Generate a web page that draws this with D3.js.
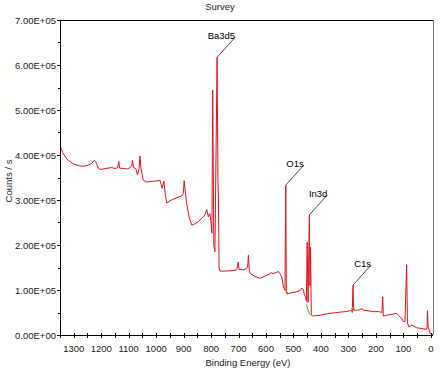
<!DOCTYPE html>
<html>
<head>
<meta charset="utf-8">
<script src="https://cdn.jsdelivr.net/npm/d3@7"></script>
<style>
  html, body { margin: 0; padding: 0; background: #fff; }
  svg { display: block; font-family: "Liberation Sans", Arial, sans-serif; }
</style>
</head>
<body>
<div id="chart"></div>
<script>
// Survey spectrum (binding energy in eV, counts / s).
const energy = [
  1350, 1340, 1330, 1320, 1313, 1300, 1280, 1265, 1250, 1235, 1225, 1220, 1210, 1204,
  1190, 1175, 1162, 1150, 1140, 1136, 1133, 1120, 1105, 1095, 1089, 1086, 1082, 1074,
  1068, 1062, 1059, 1055, 1047, 1035, 1020, 1005, 990, 986, 978, 972, 966, 961, 950,
  937, 920, 907, 901, 898, 894, 889, 880, 870, 860, 846, 832, 822, 816, 812, 810, 805,
  801, 797, 794, 790, 786, 778, 775, 773, 771, 768, 750, 720, 706, 701, 698, 680, 667,
  664, 661, 658, 640, 622, 600, 585, 579, 575, 555, 549, 543, 537, 531, 528, 526, 520,
  505, 488, 475, 470, 464, 460, 456, 453, 450, 447, 442, 440, 438, 435, 430, 420, 403,
  380, 342, 310, 294, 288, 286, 283, 281, 275, 260, 250, 246, 230, 209, 190, 178, 175,
  173, 160, 140, 124, 118, 105, 100, 94, 88, 85, 80, 69, 51, 39, 21, 14, 12, 10, 3, -8
];
const counts = [
  422000, 405000, 395000, 388000, 385000, 380000, 376000, 375000, 377000, 381000, 388000, 385000, 370000, 368000,
  369000, 371000, 372000, 370000, 372000, 386000, 371000, 370000, 369000, 372000, 376000, 388000, 372000, 370000,
  356000, 370000, 398000, 370000, 344000, 340000, 341000, 342000, 343000, 344000, 326000, 342000, 310000, 293000, 298000,
  302000, 306000, 309000, 314000, 343000, 320000, 293000, 262000, 244000, 247000, 252000, 260000, 267000, 279000, 268000, 263000, 270000,
  255000, 226000, 544000, 200000, 185000, 617000, 345000, 300000, 150000, 142000, 142000, 143000, 145000, 162000, 146000, 145000, 150000,
  178000, 145000, 137000, 130000, 126000, 132000, 136000, 139000, 136000, 141000, 136000, 130000, 107000, 100000, 333000, 92000, 92000,
  94000, 96000, 99000, 104000, 101000, 89000, 85000, 75000, 207000, 72000, 267000, 110000, 195000, 45000, 42000, 43000, 44000,
  47000, 50000, 52000, 54000, 55000, 50000, 111000, 55000, 55000, 56000, 59000, 55000, 54000, 52000, 52000, 50000, 85000,
  42000, 44000, 46000, 48000, 44000, 36000, 30000, 30000, 156000, 27000, 18000, 22000, 16000, 15000, 13000, 13000, 54000, 20000, 4000, 0
];

// Fitted background segments drawn in green.
const bgO1s = [[533, 100000], [519, 93000]];
const bgIn3d = [[454, 68000], [447, 56000], [441, 47000], [436, 43000]];
const bgC1s = [[289, 54000], [289, 60000], [278, 60000], [278, 53000]];

// Peak annotations.
const peakNames = ["Ba3d5", "O1s", "In3d", "C1s"];
const peakEnergy = [778, 528, 442, 283];
const peakCounts = [617000, 333000, 267000, 111000];

// Axis ticks.
const xTickValues = [1300, 1200, 1100, 1000, 900, 800, 700, 600, 500, 400, 300, 200, 100, 0];
const xMinorValues = d3.range(1350, -1, -50);
const yTickValues = [0, 100000, 200000, 300000, 400000, 500000, 600000, 700000];
const yTickLabels = ["0.00E+00", "1.00E+05", "2.00E+05", "3.00E+05", "4.00E+05", "5.00E+05", "6.00E+05", "7.00E+05"];
const yMinorValues = d3.range(0, 700001, 50000);

const width = 444;
const height = 389;
const margin = { top: 20, right: 11, bottom: 54, left: 60 };

const svg = d3.select("#chart")
  .append("svg")
  .attr("width", width)
  .attr("height", height);

const x = d3.scaleLinear()
  .domain([1350, -8])
  .range([margin.left, width - margin.right]);

const y = d3.scaleLinear()
  .domain([0, 700000])
  .range([height - margin.bottom, margin.top]);

const x0 = x.range()[0], x1 = x.range()[1];
const y0 = y.range()[0], y1 = y.range()[1];

// Frame (top and right).
svg.append("line")
  .attr("x1", x0).attr("x2", x1).attr("y1", y1 + 0.5).attr("y2", y1 + 0.5)
  .attr("stroke", "#000");
svg.append("line")
  .attr("x1", x1 + 0.5).attr("x2", x1 + 0.5).attr("y1", y1).attr("y2", y0)
  .attr("stroke", "#777");

// Spectrum.
const line = d3.line()
  .x((d) => x(d[0]))
  .y((d) => y(d[1]));

const spectrum = energy.map((e, i) => [e, counts[i]]);

svg.append("path")
  .datum(spectrum)
  .attr("fill", "none")
  .attr("stroke", "#e8101a")
  .attr("stroke-width", 1)
  .attr("stroke-linejoin", "round")
  .attr("d", line);

// Background segments.
[bgO1s, bgIn3d].forEach((seg) => {
  svg.append("path")
    .datum(seg)
    .attr("fill", "none")
    .attr("stroke", "#2ec02e")
    .attr("stroke-width", 1)
    .attr("d", line);
});
svg.append("path")
  .datum(bgC1s)
  .attr("fill", "none")
  .attr("stroke", "#a8c020")
  .attr("stroke-width", 1)
  .attr("d", line);

// Peak labels with leader lines.
const labels = svg.append("g").attr("font-size", 9.5).attr("fill", "#000");
peakNames.forEach((name, i) => {
  const px = x(peakEnergy[i]);
  const py = y(peakCounts[i]);
  labels.append("line")
    .attr("x1", px).attr("y1", py)
    .attr("x2", px + 18).attr("y2", py - 20)
    .attr("stroke", "#222")
    .attr("stroke-width", 0.8);
  labels.append("text")
    .attr("x", px + 18)
    .attr("y", py - 18)
    .attr("text-anchor", "end")
    .text(name);
});

// X axis.
const xAxis = svg.append("g").attr("stroke", "#000");
xAxis.append("line")
  .attr("x1", x0).attr("x2", x1).attr("y1", y0 + 0.5).attr("y2", y0 + 0.5);
xAxis.selectAll("line.tick")
  .data(xMinorValues)
  .join("line")
  .attr("class", "tick")
  .attr("x1", (d) => Math.round(x(d)) + 0.5)
  .attr("x2", (d) => Math.round(x(d)) + 0.5)
  .attr("y1", y0 - 2)
  .attr("y2", y0 + 3);

svg.append("g")
  .attr("font-size", 9.5)
  .attr("fill", "#222")
  .attr("text-anchor", "middle")
  .selectAll("text")
  .data(xTickValues)
  .join("text")
  .attr("x", (d) => x(d))
  .attr("y", y0 + 17)
  .text((d) => d);

svg.append("text")
  .attr("x", 248)
  .attr("y", y0 + 31)
  .attr("text-anchor", "middle")
  .attr("font-size", 9.5)
  .attr("fill", "#222")
  .text("Binding Energy (eV)");

// Y axis.
const yAxis = svg.append("g").attr("stroke", "#000");
yAxis.append("line")
  .attr("x1", x0 + 0.5).attr("x2", x0 + 0.5).attr("y1", y1).attr("y2", y0);
yAxis.selectAll("line.tick")
  .data(yMinorValues)
  .join("line")
  .attr("class", "tick")
  .attr("x1", (d) => (d % 100000 === 0 ? x0 - 3 : x0 - 2))
  .attr("x2", x0 + 1)
  .attr("y1", (d) => Math.round(y(d)) + 0.5)
  .attr("y2", (d) => Math.round(y(d)) + 0.5);

svg.append("g")
  .attr("font-size", 9.5)
  .attr("fill", "#222")
  .attr("text-anchor", "end")
  .selectAll("text")
  .data(yTickValues)
  .join("text")
  .attr("x", x0 - 4)
  .attr("y", (d) => y(d) + 3.5)
  .text((d, i) => yTickLabels[i]);

svg.append("text")
  .attr("transform", `translate(12, 181) rotate(-90)`)
  .attr("text-anchor", "middle")
  .attr("font-size", 9.5)
  .attr("fill", "#222")
  .text("Counts / s");

// Title.
svg.append("text")
  .attr("x", 220)
  .attr("y", 10)
  .attr("text-anchor", "middle")
  .attr("font-size", 9.5)
  .attr("fill", "#222")
  .text("Survey");
</script>
</body>
</html>
